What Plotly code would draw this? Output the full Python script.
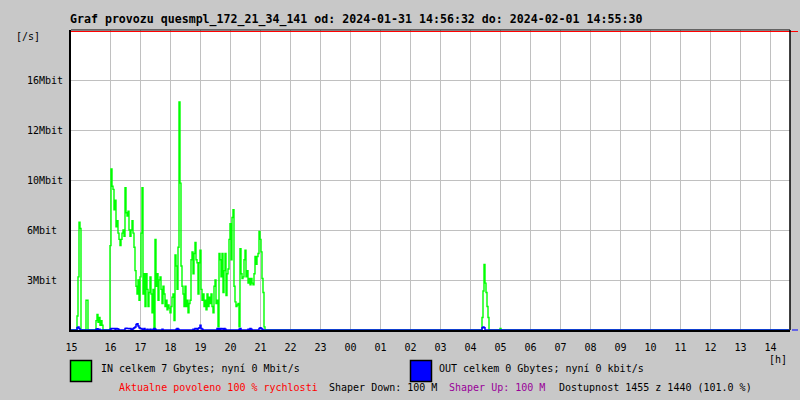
import plotly.graph_objects as go

# ---------------- data ----------------
TITLE = "Graf provozu quesmpl_172_21_34_141 od: 2024-01-31 14:56:32 do: 2024-02-01 14:55:30"

# time axis: hours of day (16 = 16:00, 24 = 00:00 next day ...); one sample per 2 minutes
T_START = 14.6833          # first sample on the chart's hour scale
T_STEP = 1.0 / 30.0        # 2 minutes
T_END_INDEX = 718

# IN traffic [Mbit/s], segment 1 starts at sample 0
IN_SEG1_START = 0
IN_SEG1 = [
    0, 0, 0, 0, 0, 0, 0.9, 3.4, 6.9, 6.5,
    0, 0, 0, 0, 0, 1.9, 1.9, 0, 0, 0,
    0, 0, 0, 0, 0, 0.6, 1.0, 0.5, 0.8, 0.3,
    0.6, 0.3, 0, 0, 0, 0, 0, 0, 0, 5.4,
    10.3, 9.2, 9.0, 7.7, 8.3, 6.6, 7.0, 6.2, 5.8, 5.4,
    5.8, 6.2, 6.4, 6.0, 9.1, 7.5, 7.3, 7.6, 6.4, 6.0,
    6.4, 7.0, 6.2, 5.3, 3.8, 2.8, 2.3, 3.2, 1.9, 3.4,
    6.2, 9.1, 2.3, 3.6, 1.5, 3.6, 2.6, 1.5, 2.4, 3.4,
    2.3, 1.1, 2.6, 0, 5.8, 2.8, 3.6, 1.9, 3.2, 3.4,
    2.6, 1.7, 2.8, 2.3, 1.5, 1.9, 1.3, 1.6, 1.4, 1.1,
    1.5, 2.1, 2.3, 0.6, 4.8, 4.1, 2.6, 5.3, 14.6, 9.4,
    4.1, 2.8, 2.3, 1.5, 2.8, 1.5, 1.9, 1.1, 1.7, 1.9,
    4.5, 5.0, 3.6, 4.9, 5.6, 4.5, 4.3, 2.3, 4.3, 5.1,
    2.6, 1.9, 2.3, 1.5, 1.9, 1.3, 2.3, 1.5, 2.1, 1.7,
    2.3, 1.5, 1.1, 2.8, 3.2, 1.7, 1.9, 0.2, 4.9, 4.5,
    3.4, 4.9, 2.4, 3.8, 4.9, 2.2, 3.6, 3.9, 5.8, 6.8,
    4.5, 7.2, 7.7, 2.8, 1.8, 1.5, 1.6, 1.7, 0.2, 5.2,
    3.6, 3.3, 3.4, 4.5, 5.1, 3.4, 3.8, 3.0, 3.3, 2.9,
    3.3, 3.0, 2.9, 3.6, 4.7, 4.2, 4.7, 4.9, 6.3, 5.8,
    5.0, 3.3, 2.4, 0.2, 0,
]
IN_SEG2_START = 409
IN_SEG2 = [0, 0, 0.8, 2.5, 4.2, 3.0, 2.4, 1.5, 0.8, 0, 0]
IN_SEG3_START = 428
IN_SEG3 = [0, 0.1, 0]

# OUT traffic [Mbit/s]
OUT_SEG1_START = 0
OUT_SEG1 = [
    0, 0, 0, 0, 0, 0, 0.15, 0.2, 0.1, 0,
    0, 0, 0, 0, 0, 0, 0, 0, 0, 0,
    0, 0, 0, 0, 0, 0.05, 0.08, 0.05, 0.05, 0,
    0, 0, 0, 0, 0, 0, 0, 0, 0, 0.05,
    0.1, 0.08, 0.1, 0.1, 0.05, 0.1, 0.08, 0.05, 0, 0,
    0, 0, 0, 0, 0.1, 0.12, 0.1, 0.1, 0.08, 0.1,
    0.05, 0.05, 0.1, 0.15, 0.2, 0.35, 0.4, 0.25, 0.15, 0.1,
    0.1, 0.05, 0.05, 0.1, 0, 0, 0.05, 0, 0, 0.05,
    0, 0, 0.05, 0.1, 0.05, 0, 0, 0, 0, 0,
    0, 0.05, 0, 0, 0, 0, 0, 0, 0, 0,
    0, 0, 0, 0, 0, 0.05, 0.1, 0.05, 0, 0,
    0, 0, 0, 0, 0, 0, 0, 0, 0, 0,
    0, 0, 0.05, 0.05, 0.1, 0.1, 0.05, 0.1, 0.15, 0.3,
    0.1, 0.05, 0, 0, 0, 0, 0, 0, 0, 0,
    0, 0, 0, 0, 0, 0, 0.1, 0.05, 0.1, 0.05,
    0.1, 0.08, 0.05, 0.1, 0.05, 0, 0, 0, 0, 0,
    0, 0, 0, 0, 0, 0, 0, 0, 0.05, 0.1,
    0, 0, 0, 0, 0, 0, 0, 0.05, 0.05, 0.1,
    0.05, 0, 0, 0, 0, 0, 0, 0, 0.1, 0.15,
    0.1, 0.05, 0, 0, 0,
]
OUT_SEG2_START = 409
OUT_SEG2 = [0, 0, 0.15, 0.2, 0.15, 0, 0, 0, 0, 0, 0]

Y_TICK_VALS = [3.2, 6.4, 9.6, 12.8, 16.0]
Y_TICK_TEXT = ["3Mbit\u00a0", "6Mbit\u00a0", "10Mbit", "12Mbit", "16Mbit"]
Y_MAX = 19.2

X_TICK_VALS = [14.70] + list(range(16, 39))
X_TICK_TEXT = ["15", "16", "17", "18", "19", "20", "21", "22", "23",
               "00", "01", "02", "03", "04", "05", "06", "07", "08",
               "09", "10", "11", "12", "13", "14"]
X_GRID_VALS = list(range(16, 39))

LEGEND_IN = "IN celkem 7 Gbytes; nyní 0 Mbit/s"
LEGEND_OUT = "OUT celkem 0 Gbytes; nyní 0 kbit/s"
INFO_1 = "Aktualne povoleno 100 % rychlosti"
INFO_2 = "Shaper Down: 100 M"
INFO_3 = "Shaper Up: 100 M"
INFO_4 = "Dostupnost 1455 z 1440 (101.0 %)"


def build(segments):
    xs, ys = [], []
    for start, vals in segments:
        for i, v in enumerate(vals):
            xs.append(T_START + (start + i) * T_STEP)
            ys.append(v)
    xs.append(T_START + T_END_INDEX * T_STEP)
    ys.append(0)
    return xs, ys


in_x, in_y = build([(IN_SEG1_START, IN_SEG1), (IN_SEG2_START, IN_SEG2), (IN_SEG3_START, IN_SEG3)])
out_x, out_y = build([(OUT_SEG1_START, OUT_SEG1), (OUT_SEG2_START, OUT_SEG2)])

# ---------------- layout ----------------
WIDTH, HEIGHT = 800, 400
ML, MR, MT, MB = 71, 10, 30, 70
PW, PH = WIDTH - ML - MR, HEIGHT - MT - MB
BG = "#c8c8c8"
GRID = "#c0c0c0"
MONO = "DejaVu Sans Mono"


def px(xp):
    return (xp - ML) / PW


def py(yp):
    return (MT + PH - yp) / PH


X_RANGE = [16 + (ML - 110.5) / 30.0, 16 + (ML + PW - 110.5) / 30.0]

fig = go.Figure()
fig.add_trace(go.Scatter(x=in_x, y=in_y, mode="lines", line=dict(color="#00ff00", width=1.4, shape="hv"),
                         hoverinfo="skip", showlegend=False))
fig.add_trace(go.Scatter(x=out_x, y=out_y, mode="lines", line=dict(color="#0000ff", width=1.5, shape="hv"),
                         hoverinfo="skip", showlegend=False))

annotations = []


def txt(text, xp, yp, color="#000000", anchor="left"):
    annotations.append(dict(text=text, x=px(xp), y=py(yp), xref="paper", yref="paper",
                            xanchor=anchor, yanchor="middle", showarrow=False,
                            font=dict(family=MONO, size=10, color=color)))


txt("[/s]", 14, 37)
txt("[h]", 789, 359, anchor="right")
txt(LEGEND_IN, 99, 368)
txt(LEGEND_OUT, 437, 368)
txt(INFO_1, 117, 387, color="#ff0000")
txt(INFO_2, 327, 387)
txt(INFO_3, 447, 387, color="#990099")
txt(INFO_4, 557, 387)

shapes = [
    dict(type="rect", xref="paper", yref="paper", x0=px(70.5), x1=px(91.5), y0=py(381.5), y1=py(360.5),
         fillcolor="#00ff00", line=dict(color="#000000", width=1.5)),
    dict(type="rect", xref="paper", yref="paper", x0=px(410.5), x1=px(431.5), y0=py(381.5), y1=py(360.5),
         fillcolor="#0000ff", line=dict(color="#000000", width=1.5)),
    dict(type="line", xref="paper", yref="paper", x0=0, x1=1, y0=py(30), y1=py(30),
         line=dict(color="#000000", width=1)),
    dict(type="line", xref="paper", yref="paper", x0=0, x1=px(798), y0=py(31.5), y1=py(31.5),
         line=dict(color="#ff0000", width=1)),
    dict(type="line", xref="paper", yref="paper", x0=1, x1=1, y0=0, y1=py(30),
         line=dict(color="#000000", width=1.5)),
    dict(type="line", xref="paper", yref="paper", x0=px(792), x1=px(798), y0=py(330), y1=py(330),
         line=dict(color="#0000ff", width=1)),
]

fig.update_layout(
    width=WIDTH, height=HEIGHT,
    margin=dict(l=ML, r=MR, t=MT, b=MB, pad=0),
    paper_bgcolor=BG, plot_bgcolor="#ffffff",
    title=dict(text="<b>" + TITLE + "</b>", x=70 / WIDTH, xanchor="left", xref="container",
               y=1 - 19 / HEIGHT, yanchor="middle", yref="container",
               font=dict(family=MONO, size=11.6, color="#000000")),
    annotations=annotations, shapes=shapes,
    showlegend=False,
    xaxis=dict(range=X_RANGE, tickmode="array", tickvals=X_TICK_VALS, ticktext=X_TICK_TEXT,
               showgrid=False, zeroline=False,
               minor=dict(tickmode="array", tickvals=X_GRID_VALS, showgrid=True, gridcolor=GRID, gridwidth=1,
                          ticks=""),
               showline=True, linecolor="#000000", linewidth=2,
               ticks="outside", ticklen=7, tickcolor="rgba(0,0,0,0)",
               tickfont=dict(family=MONO, size=10, color="#000000"), fixedrange=True),
    yaxis=dict(range=[0, Y_MAX], tickmode="array", tickvals=Y_TICK_VALS, ticktext=Y_TICK_TEXT,
               showgrid=True, gridcolor=GRID, gridwidth=1, zeroline=False,
               showline=True, linecolor="#000000", linewidth=2,
               ticks="outside", ticklen=4, tickcolor="rgba(0,0,0,0)",
               tickfont=dict(family=MONO, size=10, color="#000000"), fixedrange=True),
)

fig.write_html("out.html", config={"displayModeBar": False},
               post_script="document.body.style.margin='0';document.body.style.background='#c8c8c8';")
